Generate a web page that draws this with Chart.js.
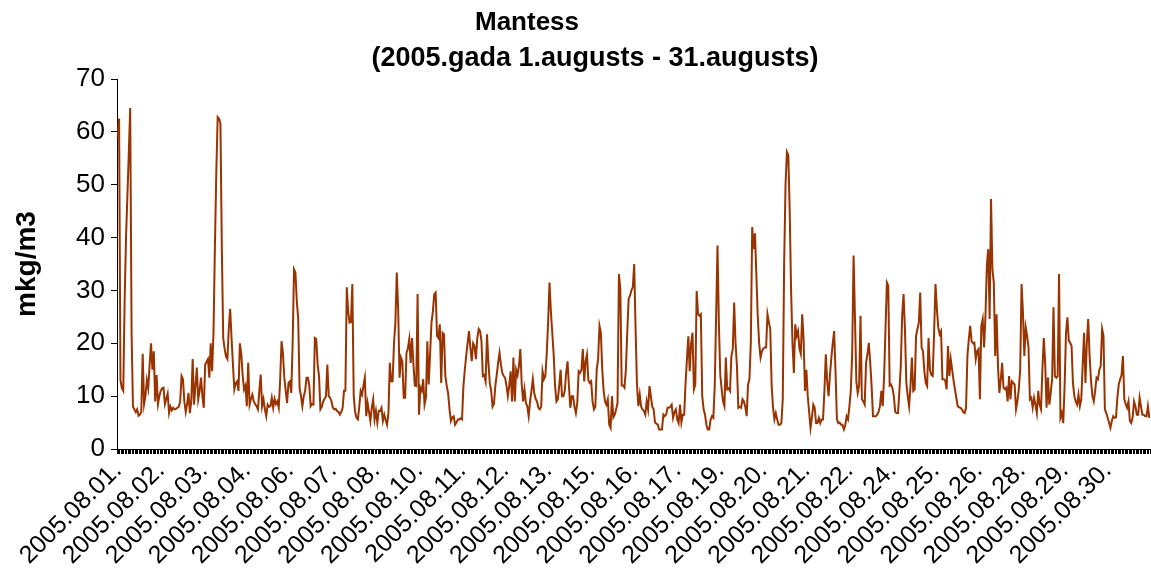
<!DOCTYPE html>
<html>
<head>
<meta charset="utf-8">
<script src="https://cdn.jsdelivr.net/npm/chart.js@4/dist/chart.umd.min.js"></script>
<style>
html,body{margin:0;padding:0;background:#ffffff;}
#wrap{width:1151px;height:569px;}
</style>
</head>
<body>
<div id="wrap"><canvas id="c" width="1151" height="569"></canvas></div>
<script>
const titleLines = ['Mantess', '(2005.gada 1.augusts - 31.augusts)'];
const yTitle = 'mkg/m3';
const yTicks = [0, 10, 20, 30, 40, 50, 60, 70];
const labelEvery = 31;
const days = ['2005.08.01.','2005.08.02.','2005.08.03.','2005.08.04.','2005.08.05.','2005.08.06.','2005.08.07.','2005.08.08.','2005.08.09.','2005.08.10.','2005.08.11.','2005.08.12.','2005.08.13.','2005.08.14.','2005.08.15.','2005.08.16.','2005.08.17.','2005.08.18.','2005.08.19.','2005.08.20.','2005.08.21.','2005.08.22.','2005.08.23.','2005.08.24.','2005.08.25.','2005.08.26.','2005.08.27.','2005.08.28.','2005.08.29.','2005.08.30.','2005.08.31.'];
const hours = [0,1,2,3,4,5,6,7,8,9,10,11,12,13,14,15,16,17,18,19,20,21,22,23];

// hourly values, one array per day (mkg/m3)
const d01 = [59, 62.5, 13, 11.5, 11, 28, 40, 48, 56, 64.5, 22, 8, 7.5, 7, 7.5, 6.3, 6.5, 7, 18, 8.5, 10, 13, 11.5, 16];
const d02 = [20, 15, 18.5, 9, 14, 8.5, 10, 11, 11.5, 11.6, 8.5, 9.5, 10.5, 6.8, 8, 7.3, 7.8, 7.5, 7.6, 7.8, 8, 9, 13.8, 13.2];
const d03 = [9, 7, 8.5, 10.6, 6.8, 9, 17, 8.4, 12, 15.4, 9.4, 11, 13.5, 10, 7.8, 16, 16.5, 17, 13.5, 20, 14.7, 22, 38, 52];
const d04 = [62.8, 62.5, 61.6, 38, 21, 19, 17.5, 17, 22.7, 26.5, 21, 16, 11.3, 12.5, 12.8, 11, 20, 18, 14, 11.3, 12, 8.1, 16.3, 8.4];
const d05 = [9.5, 10.3, 9, 8.5, 8.1, 7.5, 11, 14.1, 8.1, 9.4, 7.5, 6.2, 8.4, 8, 8.1, 9.7, 7.8, 9.5, 8.5, 9, 7.8, 13, 20.4, 18.2];
const d06 = [13.5, 11, 8.7, 12.5, 12.8, 10.6, 20, 34, 33.4, 28, 24.6, 11.6, 10, 8.1, 10, 11, 13.5, 13.5, 12, 8.1, 8.5, 8.4, 21, 20.8];
const d07 = [16, 13.8, 7.5, 8, 9, 9.5, 10, 16, 10, 9.7, 9, 7.8, 7.5, 7.6, 7.2, 7, 6.5, 7, 7.8, 11, 11, 30.6, 26, 23.9];
const d08 = [24, 31.2, 10, 7, 5.9, 5.6, 8, 11, 10.3, 12, 13.5, 6.2, 8.7, 7, 5.3, 7.8, 9.4, 5.6, 7.2, 5, 7.2, 7.2, 7.8, 5.3];
const d09 = [6.5, 5.5, 4.6, 6.8, 16.3, 12.8, 12.8, 20, 23.9, 33.4, 26.5, 13.5, 17.3, 16.6, 9.7, 9.7, 18.2, 19, 20.8, 16.3, 21, 16, 12, 11.9];
const d10 = [29.3, 6.5, 11.6, 11, 13.2, 8.4, 9.7, 20.4, 12.2, 18, 23.9, 26, 29.3, 29.6, 21.4, 21, 23.6, 12.5, 22, 21.7, 13.8, 11.9, 10.5, 7.5];
const d11 = [5.3, 6, 6.2, 4.6, 5, 5.6, 5.6, 5.8, 5.6, 11.9, 15, 17.6, 20, 22.3, 19.2, 16.6, 20, 19.5, 17, 21, 22.7, 22.3, 20.4, 13.8];
const d12 = [14, 12.8, 21.7, 16.3, 12.5, 11, 8, 8.5, 12, 14, 16.3, 18.2, 16, 14.4, 13.8, 13.5, 12, 10, 12, 14.7, 9, 17.3, 9, 15];
const d13 = [14, 15.7, 18.9, 12.2, 9, 11.3, 8.7, 8.1, 6.2, 9, 11, 13.2, 10.6, 9.5, 9, 7.8, 7.5, 8, 14.7, 13.2, 13.8, 18, 24, 31.5];
const d14 = [26, 22, 17.9, 12, 9, 9.4, 12, 15, 10, 10, 11, 14.4, 16.6, 11.9, 7.8, 10, 10, 8, 6.8, 8.7, 14.7, 14.4, 15, 18.9];
const d15 = [12.8, 16.6, 17.9, 13, 12.5, 12.8, 9, 7.5, 8, 15, 17, 23.3, 22, 15, 11, 9, 8.4, 9.4, 4.6, 4, 10, 6, 6.5, 7.5];
const d16 = [8.7, 33.1, 30.3, 12, 12, 11.6, 15, 22, 28.4, 29, 30, 30.6, 35, 22.7, 12.2, 8.1, 10.3, 8, 7.5, 7.2, 6.5, 9, 7.5, 11.9];
const d17 = [10, 8, 7.5, 5, 4.8, 4.6, 3.7, 3.7, 3.7, 6.5, 6.2, 6.5, 7.8, 7.8, 8, 8.4, 5.9, 7, 7.5, 5.6, 4.9, 8.4, 5, 6.5];
const d18 = [6.5, 12.5, 17, 21.3, 14.7, 20, 22, 11.3, 12.2, 29.9, 25.5, 25.2, 25.5, 10, 7.5, 6.5, 4.6, 3.7, 3.7, 5.5, 6.2, 5.9, 11.9, 25];
const d19 = [38.5, 23.6, 14, 11.3, 9, 8.1, 17.3, 11.3, 11.5, 11, 17.6, 18.9, 27.7, 20, 15.7, 7.8, 8, 7.8, 9.4, 9, 8, 6.2, 12.2, 13.2];
const d20 = [20.1, 42, 37.8, 40.8, 32.8, 25, 20, 17.3, 18.5, 19, 19.2, 19.2, 25.5, 24, 22.7, 12, 7.8, 5.6, 6.8, 5.6, 4.6, 4.6, 4.9, 9.4];
const d21 = [35, 50, 56.2, 55.6, 45, 30, 20, 14.4, 23.6, 21.4, 22.3, 19, 18, 25.5, 20.8, 11, 15, 10, 7, 4, 6, 8.4, 7.8, 4.9];
const d22 = [4.9, 5.9, 4.9, 5.6, 5.6, 11, 17.9, 12.8, 10, 14, 17.3, 20, 22.3, 14.7, 5.6, 4.9, 5, 4.6, 4.6, 3.7, 4.5, 6.2, 5.6, 8];
const d23 = [11, 18, 36.6, 25, 12.8, 10.6, 12, 25.2, 9.4, 9, 8.4, 16.3, 18, 20.1, 16.3, 11.9, 6.2, 6.2, 6.2, 6.5, 7, 8.1, 11, 8.1];
const d24 = [13.8, 22.7, 31.5, 30.9, 12, 12.2, 11.5, 10, 7, 6.8, 6.8, 11, 15.7, 25.2, 29.3, 22.7, 12.5, 10, 8.1, 12, 17.3, 11, 11.3, 21.4];
const d25 = [22.7, 23.9, 29.6, 19.2, 18.5, 14.7, 12.5, 11.9, 21, 15, 14, 13.8, 22, 31.2, 26.5, 23, 21.7, 22.3, 13.2, 13.2, 13, 11.3, 19.5, 13.8];
const d26 = [17, 15, 13, 11.3, 9.7, 8.1, 7.9, 7.8, 7.5, 7, 6.8, 7.8, 17.6, 20.8, 23.3, 20.4, 20, 20.1, 17, 18.5, 18.9, 9.4, 23.3, 24.6];
const d27 = [19.2, 25.2, 34.7, 37.8, 24.6, 47.3, 34, 31.5, 17.6, 25.5, 15.7, 10.6, 13, 16.3, 11.6, 11.3, 11.6, 9, 13.8, 9.4, 12.8, 12.5, 12.2, 7.5];
const d28 = [9, 11.3, 15, 31.2, 25.8, 17.6, 23, 21.4, 19.2, 9.4, 9.7, 7.8, 9.7, 8.4, 6.8, 11, 8.4, 7.5, 15, 21, 16.3, 7.8, 13.5, 8.4];
const d29 = [10.6, 13.2, 26.8, 13.8, 13.5, 13.8, 33.1, 5.9, 6.8, 4.9, 11.9, 22, 24.9, 20.5, 20.1, 19.5, 12.5, 10, 9, 8.4, 10.3, 8.1, 9.4, 15.7];
const d30 = [22, 12.5, 20.1, 24.6, 17.6, 13, 10, 9, 11, 13.5, 13.2, 15, 15.7, 22.7, 21.4, 7.5, 6.8, 5.9, 5, 4, 5.3, 6.2, 5.9, 6];
const d31 = [9.7, 12.2, 13.2, 14, 17.6, 9.4, 8.5, 7.8, 9, 5.3, 4.9, 6, 9, 8.1, 6.5, 6.5, 9.7, 8.1, 6.5, 6.5, 6.2, 6.2, 8.1, 5.9];

const dayValues = [d01,d02,d03,d04,d05,d06,d07,d08,d09,d10,d11,d12,d13,d14,d15,d16,d17,d18,d19,d20,d21,d22,d23,d24,d25,d26,d27,d28,d29,d30,d31];
const values = [].concat(...dayValues);
const categories = [];
days.forEach(d => hours.forEach(() => categories.push(d)));

const F = 'Arial, "Liberation Sans", sans-serif';

// two-line chart title, each line placed as in the original picture
const titlePlugin = {
  id: 'twoLineTitle',
  afterDraw(chart) {
    const c = chart.ctx;
    c.save();
    c.fillStyle = '#000';
    c.textAlign = 'center';
    c.textBaseline = 'middle';
    c.font = 'bold 26px ' + F;
    c.fillText(titleLines[0], 527, 23);
    c.font = 'bold 27px ' + F;
    c.fillText(titleLines[1], 595, 59);
    c.restore();
  }
};

new Chart(document.getElementById('c').getContext('2d'), {
  type: 'line',
  data: {
    labels: categories,
    datasets: [{
      data: values,
      borderColor: '#993300',
      borderWidth: 2,
      pointRadius: 0,
      tension: 0,
      fill: false
    }]
  },
  plugins: [titlePlugin],
  options: {
    responsive: false,
    animation: false,
    devicePixelRatio: 1,
    layout: { padding: { left: 0, right: 1, top: 79, bottom: 0 } },
    plugins: {
      legend: { display: false },
      tooltip: { enabled: false },
      title: { display: false }
    },
    scales: {
      x: {
        type: 'category',
        offset: true,
        grid: { display: true, drawOnChartArea: false, drawTicks: true, tickLength: 5, color: '#000', offset: true },
        border: { display: true, color: '#000', width: 1 },
        ticks: {
          autoSkip: false,
          maxRotation: 45,
          minRotation: 45,
          color: '#000',
          padding: 2,
          font: { family: F, size: 25 },
          callback: (v, i) => (i % labelEvery === 0 ? categories[i] : '')
        },
        afterFit: s => { s.height = 120; s.paddingLeft = 0; s.paddingRight = 0; }
      },
      y: {
        min: 0,
        max: 70,
        afterBuildTicks: s => { s.ticks = yTicks.map(v => ({ value: v })); },
        ticks: { color: '#000', padding: 6, font: { family: F, size: 26 } },
        grid: { drawOnChartArea: false, drawTicks: true, tickLength: 6, color: '#000' },
        border: { display: true, color: '#000', width: 1 },
        title: {
          display: true,
          text: yTitle,
          color: '#000',
          font: { family: F, size: 28, weight: 'bold' },
          padding: { top: 10, bottom: 0 }
        },
        afterFit: s => { s.width = 117; s.paddingTop = 0; s.paddingBottom = 0; }
      }
    }
  }
});
</script>
</body>
</html>
